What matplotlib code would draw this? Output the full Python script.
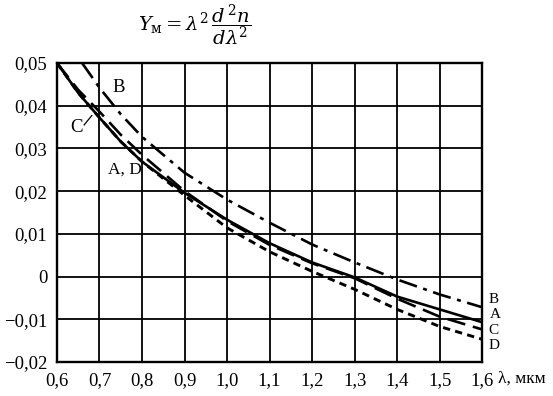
import matplotlib
matplotlib.use("Agg")
import matplotlib.pyplot as plt

plt.rcParams['font.family'] = ['Liberation Serif', 'DejaVu Serif']
plt.rcParams['mathtext.fontset'] = 'dejavuserif'

# длины волн и значения Y_м для четырёх кривых
lam = [0.6, 0.65, 0.7, 0.75, 0.8, 0.9, 1.0, 1.1, 1.2, 1.3, 1.4, 1.5, 1.6]
y_a = [0.050, 0.0430, 0.0372, 0.0316, 0.0269, 0.0196, 0.0133, 0.0078, 0.0033, -0.0002, -0.0047, -0.0077, -0.0107]
y_c = [0.050, 0.0437, 0.0386, 0.0332, 0.0285, 0.0200, 0.0130, 0.0074, 0.0031, -0.0004, -0.0052, -0.0094, -0.0124]
y_d = [0.050, 0.0430, 0.0372, 0.0316, 0.0269, 0.0190, 0.0114, 0.0058, 0.0012, -0.0030, -0.0077, -0.0117, -0.0147]
lam_b = [0.659, 0.7, 0.75, 0.8, 0.9, 1.0, 1.1, 1.2, 1.3, 1.4, 1.5, 1.6]
y_b = [0.050, 0.0442, 0.0380, 0.0327, 0.0243, 0.0180, 0.0126, 0.0075, 0.0033, -0.0007, -0.0042, -0.0072]

xticks = [0.6, 0.7, 0.8, 0.9, 1.0, 1.1, 1.2, 1.3, 1.4, 1.5, 1.6]
xlabels = ["0,6", "0,7", "0,8", "0,9", "1,0", "1,1", "1,2", "1,3", "1,4", "1,5", "1,6"]
yticks = [-0.02, -0.01, 0.0, 0.01, 0.02, 0.03, 0.04, 0.05]
ylabels = ["\u22120,02", "\u22120,01", "0", "0,01", "0,02", "0,03", "0,04", "0,05"]

fig = plt.figure(figsize=(5.53, 3.96), dpi=100)
ax = fig.add_axes([0.103, 0.086, 0.769, 0.755])

ax.set_xlim(0.6, 1.6)
ax.set_ylim(-0.02, 0.05)
ax.set_xticks(xticks)
ax.set_xticklabels(xlabels, fontsize=13.5)
ax.set_yticks(yticks)
ax.set_yticklabels(ylabels, fontsize=13.5)
ax.tick_params(length=0, pad=7)
ax.grid(True, color="black", lw=1.3)
for s in ax.spines.values():
    s.set_linewidth(1.7)

ax.plot(lam, y_a, color="black", lw=1.9, ls="-")
ax.plot(lam, y_c, color="black", lw=1.9, ls=(0, (7, 3)))
ax.plot(lam, y_d, color="black", lw=2.1, ls=(0, (2.5, 1.8)))
ax.plot(lam_b, y_b, color="black", lw=1.9, ls=(0, (7, 2.5, 1.5, 2.5)))

ax.text(0.73, 0.0442, "B", fontsize=13.5, va="center")
ax.text(0.645, 0.0348, "C", fontsize=13.5, va="center", ha="center")
ax.plot([0.664, 0.682], [0.0355, 0.0377], color="black", lw=0.9)
ax.text(0.72, 0.0251, "A, D", fontsize=12.5, va="center")
ax.text(1.615, -0.0054, "B", fontsize=11, va="center", clip_on=False)
ax.text(1.617, -0.0090, "A", fontsize=11, va="center", clip_on=False)
ax.text(1.615, -0.0126, "C", fontsize=11, va="center", clip_on=False)
ax.text(1.615, -0.0162, "D", fontsize=11, va="center", clip_on=False)

fig.text(0.9, 0.045, "\u03bb, мкм", fontsize=12.5, va="center")
fig.text(0.25, 0.935, r"$Y_{\mathrm{м}} = \lambda^2\,\dfrac{d^{\,2}n}{d\lambda^2}$",
         fontsize=14, va="center")

fig.savefig("out.png", dpi=100)
